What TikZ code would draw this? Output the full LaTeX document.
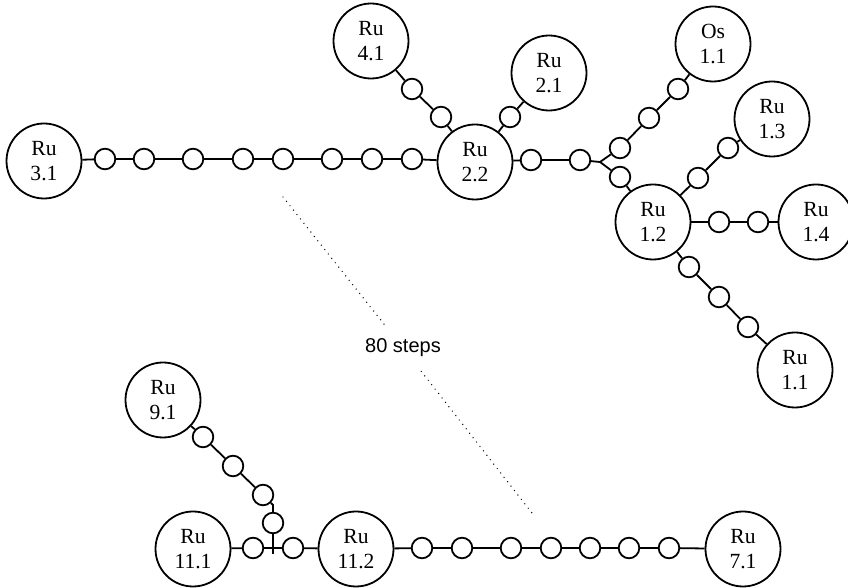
\documentclass[tikz,border=0pt]{standalone}
\usepackage{fontspec}
\setmainfont{Liberation Serif}
\newfontfamily\stepsfont{Liberation Sans}
\tikzset{
  metal/.style={circle,draw,line width=0.9pt,minimum size=37.5pt,inner sep=0pt,
    align=center,font=\fontsize{10.8}{12.8}\selectfont},
  bead/.style={circle,draw,line width=0.9pt,minimum size=10.3pt,inner sep=0pt},
  bond/.style={line width=0.9pt},
  gap/.style={line width=0.7pt,line cap=round,dash pattern=on 0pt off 2.8pt}
}
\begin{document}
\begin{tikzpicture}[x=0.5pt,y=-0.5pt]
        \useasboundingbox (0,0) rectangle (848,588);
        %% upper cluster: metal centres
        \node[metal] (ru31) at (44,161) {Ru\\3.1};
        \node[metal] (ru22) at (475,162) {Ru\\2.2};
        \node[metal] (ru41) at (371,41) {Ru\\4.1};
        \node[metal] (ru21) at (549,73) {Ru\\2.1};
        \node[metal] (os11) at (713,44) {Os\\1.1};
        \node[metal] (ru12) at (653,222) {Ru\\1.2};
        \node[metal] (ru13) at (772,119) {Ru\\1.3};
        \node[metal] (ru14) at (816,222) {Ru\\1.4};
        \node[metal] (ru11) at (795,370) {Ru\\1.1};
        %% upper cluster: beads
        \foreach \x [count=\i] in {105,144,193,243,283,332,372,412} \node[bead] (a\i) at (\x,159) {};
        \node[bead] (b1) at (531,160) {};
        \node[bead] (b2) at (580,160) {};
        \coordinate (j1) at (600,162);
        \node[bead] (c1) at (620,148) {};
        \node[bead] (c2) at (649,118) {};
        \node[bead] (c3) at (678,89) {};
        \node[bead] (d1) at (620,177) {};
        \node[bead] (e1) at (412,89) {};
        \node[bead] (e2) at (441,117) {};
        \node[bead] (f1) at (510,117) {};
        \node[bead] (h1) at (698,178) {};
        \node[bead] (h2) at (728,148) {};
        \node[bead] (k1) at (719,222) {};
        \node[bead] (k2) at (758,222) {};
        \node[bead] (m1) at (689,267) {};
        \node[bead] (m2) at (719,297) {};
        \node[bead] (m3) at (748,327) {};
        %% upper cluster: bonds
        \draw[bond] (ru31) -- (a1) -- (a2) -- (a3) -- (a4) -- (a5) -- (a6) -- (a7) -- (a8) -- (ru22);
        \draw[bond] (ru22) -- (b1) -- (b2) -- (j1) -- (c1) -- (c2) -- (c3) -- (os11);
        \draw[bond] (j1) -- (d1) -- (ru12);
        \draw[bond] (ru41) -- (e1) -- (e2) -- (ru22);
        \draw[bond] (ru22) -- (f1) -- (ru21);
        \draw[bond] (ru12) -- (h1) -- (h2) -- (ru13);
        \draw[bond] (ru12) -- (k1) -- (k2) -- (ru14);
        \draw[bond] (ru12) -- (m1) -- (m2) -- (m3) -- (ru11);
        %% lower cluster
        \node[metal] (ru91) at (163,400) {Ru\\9.1};
        \node[metal] (ru111) at (193,549) {Ru\\11.1};
        \node[metal] (ru112) at (356,549) {Ru\\11.2};
        \node[metal] (ru71) at (743,549) {Ru\\7.1};
        \node[bead] (p1) at (203,437) {};
        \node[bead] (p2) at (233,466) {};
        \node[bead] (p3) at (263,495) {};
        \coordinate (t1) at (273,505);
        \node[bead] (p4) at (273,523) {};
        \coordinate (t2) at (273,554);
        \node[bead] (q1) at (253,548) {};
        \node[bead] (q2) at (293,548) {};
        \foreach \x [count=\i] in {422,462,511,551,590,629,669} \node[bead] (r\i) at (\x,548) {};
        \draw[bond] (ru91) -- (p1) -- (p2) -- (p3) -- (t1) -- (p4) -- (t2);
        \draw[bond] (ru111) -- (q1) -- (q2) -- (ru112);
        \draw[bond] (ru112) -- (r1) -- (r2) -- (r3) -- (r4) -- (r5) -- (r6) -- (r7) -- (ru71);
        %% dotted gap between the two clusters
        \coordinate (g1) at (283,197);
        \coordinate (g2) at (532,513);
        \node[font=\stepsfont\fontsize{10}{12}\selectfont,inner xsep=3pt,inner ysep=7pt] (steps) at (403,348) {80 steps};
        \draw[gap] (g1) -- (steps);
        \draw[gap] (steps) -- (g2);
    \end{tikzpicture}
\end{document}
